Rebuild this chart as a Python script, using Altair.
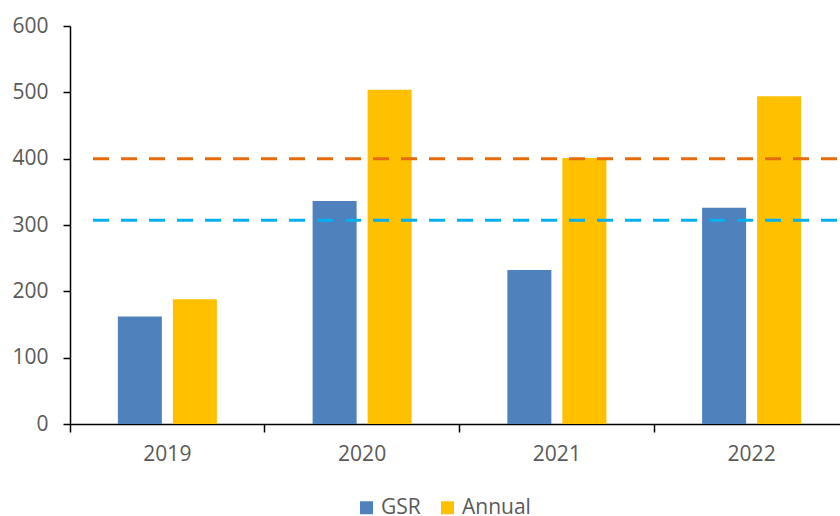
import altair as alt
import pandas as pd

# Rainfall totals per year, growing-season (GSR) and annual
years = ["2019", "2020", "2021", "2022"]
gsr = [162, 336, 232, 326]
annual = [188, 504, 401, 494]

# Horizontal reference levels drawn as dashed lines
annual_ref = 400
gsr_ref = 307

series = ["GSR", "Annual"]
series_colors = ["#4F81BD", "#FFC000"]

FONT = "Open Sans"
TEXT = "#595959"
PLOT_W = 770
PLOT_H = 398

bars_df = pd.DataFrame(
    {
        "year": years * 2,
        "series": ["GSR"] * len(years) + ["Annual"] * len(years),
        "value": gsr + annual,
    }
)
refs_df = pd.DataFrame(
    {"level": [annual_ref, gsr_ref], "name": ["annual", "gsr"]}
)

x_scale = alt.Scale(domain=years, range=[0, 779], paddingInner=0, paddingOuter=0)
y_scale = alt.Scale(domain=[0, 600], nice=False)

y_axis = alt.Axis(
    title=None,
    values=[0, 100, 200, 300, 400, 500, 600],
    tickSize=7,
    tickColor="black",
    tickWidth=1.5,
    domainColor="black",
    domainWidth=1.5,
    labelPadding=15,
    labelFont=FONT,
    labelFontSize=21,
    labelColor=TEXT,
    grid=False,
)

bars = alt.Chart(bars_df).mark_bar().encode(
    x=alt.X(
        "year:N",
        scale=x_scale,
        sort=years,
        axis=alt.Axis(
            title=None,
            labelAngle=0,
            bandPosition=0,
            ticks=True,
            tickSize=8,
            tickColor="black",
            tickWidth=1.5,
            domainColor="black",
            domainWidth=1.5,
            labelPadding=11,
            labelFont=FONT,
            labelFontSize=21,
            labelColor=TEXT,
            labelBaseline="top",
            grid=False,
        ),
    ),
    xOffset=alt.XOffset(
        "series:N",
        sort=series,
        scale=alt.Scale(paddingInner=0.2, paddingOuter=0.87),
    ),
    y=alt.Y("value:Q", scale=y_scale, axis=y_axis),
    color=alt.Color(
        "series:N",
        sort=series,
        scale=alt.Scale(domain=series, range=series_colors),
        legend=alt.Legend(
            title=None,
            orient="none",
            direction="horizontal",
            legendX=286,
            legendY=471,
            symbolType="square",
            symbolSize=169,
            symbolStrokeWidth=0,
            labelFont=FONT,
            labelFontSize=21,
            labelColor=TEXT,
            labelOffset=4,
            columnPadding=16,
            padding=0,
        ),
    ),
)

rules = alt.Chart(refs_df).mark_rule(strokeWidth=3, strokeDash=[16, 12]).encode(
    y=alt.Y("level:Q", scale=y_scale, axis=y_axis),
    x=alt.value(23),
    x2=alt.value(790),
    color=alt.Color(
        "name:N",
        scale=alt.Scale(domain=["annual", "gsr"], range=["#E46C0A", "#00B0F0"]),
        legend=None,
    ),
)

chart = (
    alt.layer(bars, rules)
    .resolve_scale(color="independent")
    .properties(
        width=PLOT_W,
        height=PLOT_H,
        autosize=alt.AutoSizeParams(type="none"),
        padding={"left": 70, "top": 26, "right": 0, "bottom": 92},
    )
    .configure(background="white")
    .configure_view(strokeWidth=0, stroke="transparent")
    .configure_axis(grid=False)
)

chart.save("out.html", embed_options={"renderer": "svg", "actions": False})
